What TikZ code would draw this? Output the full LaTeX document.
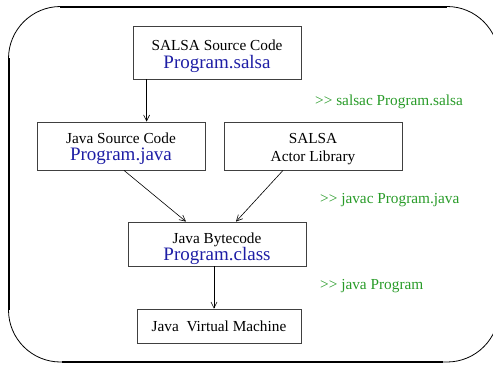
\documentclass[tikz,border=0pt]{standalone}
\usepackage{fontspec}
\setmainfont{Liberation Serif}
\usepackage{xcolor}
\usepackage{tikz}
\usetikzlibrary{arrows.meta}

\definecolor{progblue}{RGB}{30,30,165}
\definecolor{cmdgreen}{RGB}{40,155,40}
\newcommand{\progname}[1]{{\fontsize{19}{19}\selectfont\color{progblue}#1}}
\newcommand{\prompt}{{>}{>}}
\newcommand{\toppad}[1]{\rule{0pt}{#1}}

\begin{document}
\begin{tikzpicture}[x=1pt, y=-1pt, stage/.style={draw=black!75, line width=0.8pt, align=center, inner sep=0pt, font=\fontsize{15.3}{20}\selectfont}, cmd/.style={anchor=base west, inner sep=0pt, text=cmdgreen, font=\fontsize{15.3}{18}\selectfont}, flow/.style={-{Straight Barb[length=6pt,width=6pt]}, line width=0.6pt}]
  \useasboundingbox (0,0) rectangle (493,365);
  \clip (0,0) rectangle (493,365);
  % outer frame
  \draw[line width=0.8pt, rounded corners=52pt] (8.5,6.5) rectangle (499,362);
  \draw[line width=2pt] (8.5,58) -- (8.5,310);
  \draw[line width=2pt] (60,6.5) -- (447,6.5);
  \draw[line width=2pt] (62,362) -- (443,362);
  % stages
  \node[stage, minimum width=168pt, minimum height=53pt] (salsasrc) at (217,52.5) {\toppad{19pt}SALSA Source Code\\[-2pt]\progname{Program.salsa}};
  \node[stage, minimum width=168pt, minimum height=48pt] (javasrc) at (121,146) {\toppad{17pt}Java Source Code\\[-3pt]\progname{Program.java}};
  \node[stage, minimum width=178pt, minimum height=48pt] (actorlib) at (313,146) {\toppad{17pt}SALSA\\[-2pt]Actor Library};
  \node[stage, minimum width=178pt, minimum height=44pt] (bytecode) at (217,244) {\toppad{20pt}Java Bytecode\\[-3pt]\progname{Program.class}};
  \node[stage, minimum width=164pt, minimum height=34pt] (jvm) at (219,326) {Java\ \ Virtual Machine};
  % commands
  \node[cmd] (salsac) at (315,105) {\prompt\ salsac Program.salsa};
  \node[cmd] (javac) at (320,203) {\prompt\ javac Program.java};
  \node[cmd] (javarun) at (320,289) {\prompt\ java Program};
  % flow
  \draw[flow] ([xshift=14pt]salsasrc.south west) -- ([xshift=14pt]salsasrc.south west |- javasrc.north);
  \draw[flow] ([xshift=3pt]javasrc.south) -- ([xshift=-31pt]bytecode.north);
  \draw[flow] ([xshift=-30pt]actorlib.south) -- ([xshift=19pt]bytecode.north);
  \draw[flow] ([xshift=-3pt]bytecode.south) -- ([xshift=-3pt]bytecode.south |- jvm.north);
\end{tikzpicture}
\end{document}
